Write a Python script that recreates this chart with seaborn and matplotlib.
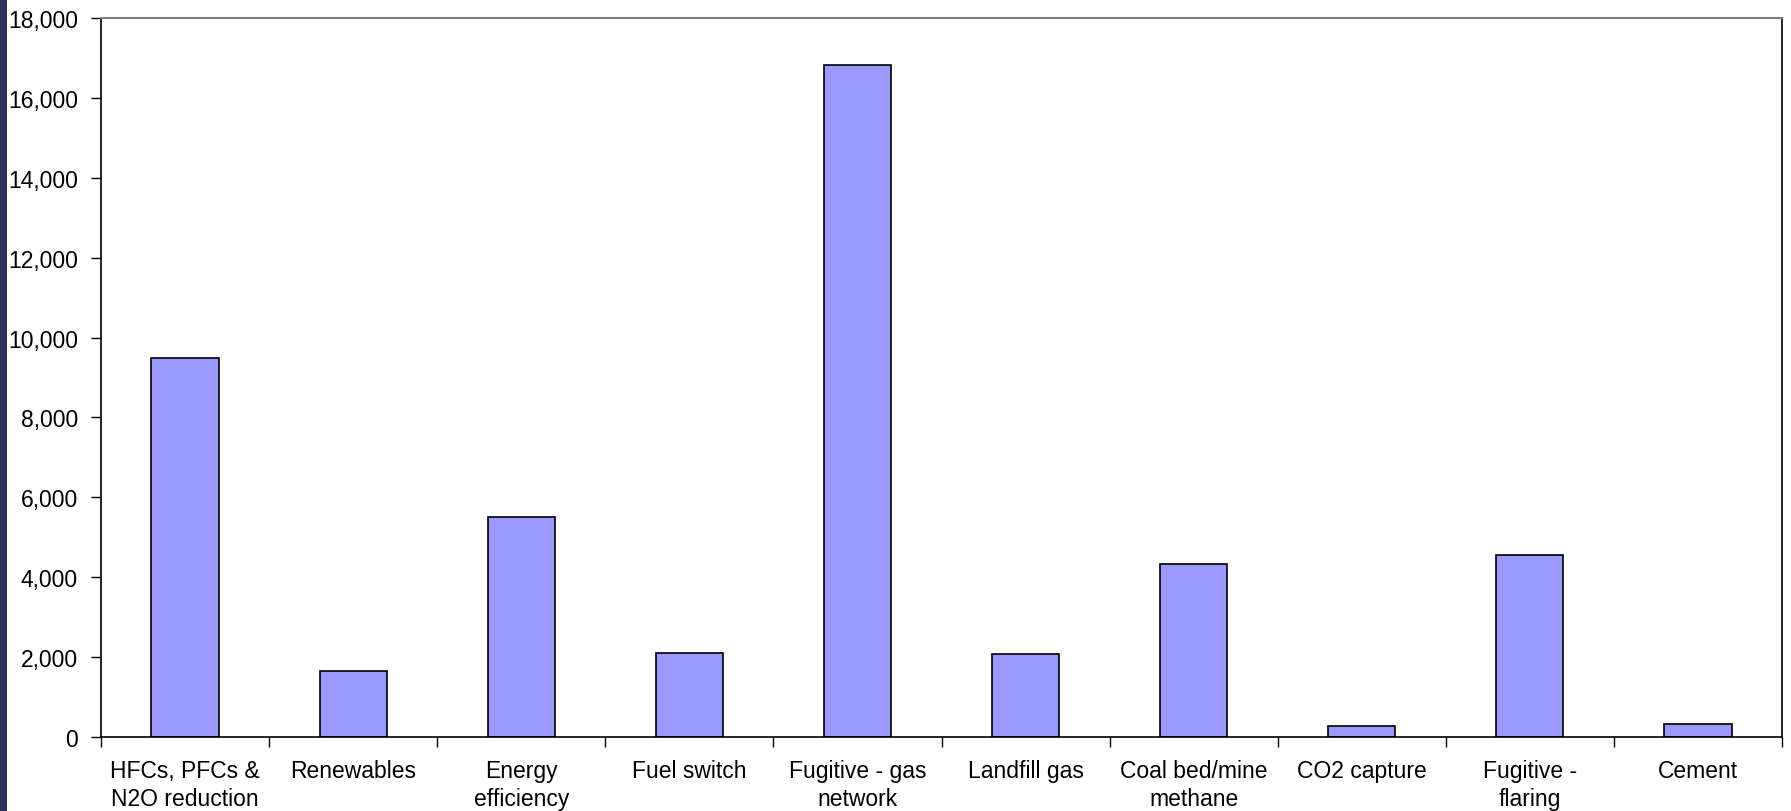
import matplotlib
matplotlib.use("Agg")
import matplotlib.pyplot as plt
from matplotlib.patches import Rectangle
from matplotlib.ticker import FuncFormatter, MultipleLocator
import seaborn as sns
import pandas as pd

categories = [
    "HFCs, PFCs &\nN2O reduction", "Renewables", "Energy\nefficiency", "Fuel switch",
    "Fugitive - gas\nnetwork", "Landfill gas", "Coal bed/mine\nmethane", "CO2 capture",
    "Fugitive -\nflaring", "Cement",
]
values = [9500, 1650, 5520, 2110, 16830, 2080, 4340, 280, 4560, 320]

df = pd.DataFrame({"category": categories, "value": values})

sns.set_style("white")
plt.rcParams["font.family"] = ["Liberation Sans", "DejaVu Sans"]
plt.rcParams["text.color"] = "black"
plt.rcParams["xtick.color"] = "black"
plt.rcParams["ytick.color"] = "black"

fig = plt.figure(figsize=(17.91, 8.12), dpi=100)
ax = fig.add_axes([101 / 1791, 1 - 738 / 812, (1782 - 101) / 1791, (738 - 19) / 812])

sns.barplot(data=df, x="category", y="value", color="#9999FF", saturation=1,
            width=0.4, edgecolor="black", linewidth=1.2, ax=ax)

ax.set_xlim(-0.5, len(categories) - 0.5)
ax.set_ylim(0, 18000)
ax.yaxis.set_major_locator(MultipleLocator(2000))
ax.yaxis.set_major_formatter(FuncFormatter(lambda v, p: f"{int(v):,}"))

# x ticks sit on category boundaries, labels centred under the bars
ax.set_xticks([i + 0.5 for i in range(-1, len(categories))], minor=False)
ax.set_xticklabels([])
ax.set_xticks(range(len(categories)), minor=True)
ax.set_xticklabels(categories, minor=True, fontsize=16.5, linespacing=1.28)
ax.tick_params(axis="x", which="major", direction="out", length=7, width=1, bottom=True)
ax.tick_params(axis="x", which="minor", length=0, pad=16)
ax.tick_params(axis="y", direction="out", length=7, width=1, left=True, labelsize=16.5, pad=9.5)

ax.set_xlabel("")
ax.set_ylabel("")
for side in ["left", "bottom", "right"]:
    ax.spines[side].set_color("black")
    ax.spines[side].set_linewidth(1.2)
ax.spines["top"].set_color("#808080")
ax.spines["top"].set_linewidth(1.5)

# dark strip on the left edge
fig.patches.append(Rectangle((0, 0), 7 / 1791, 1, transform=fig.transFigure,
                             facecolor="#2e2e5e", edgecolor="none", zorder=0))

fig.savefig("out.png", dpi=100)
